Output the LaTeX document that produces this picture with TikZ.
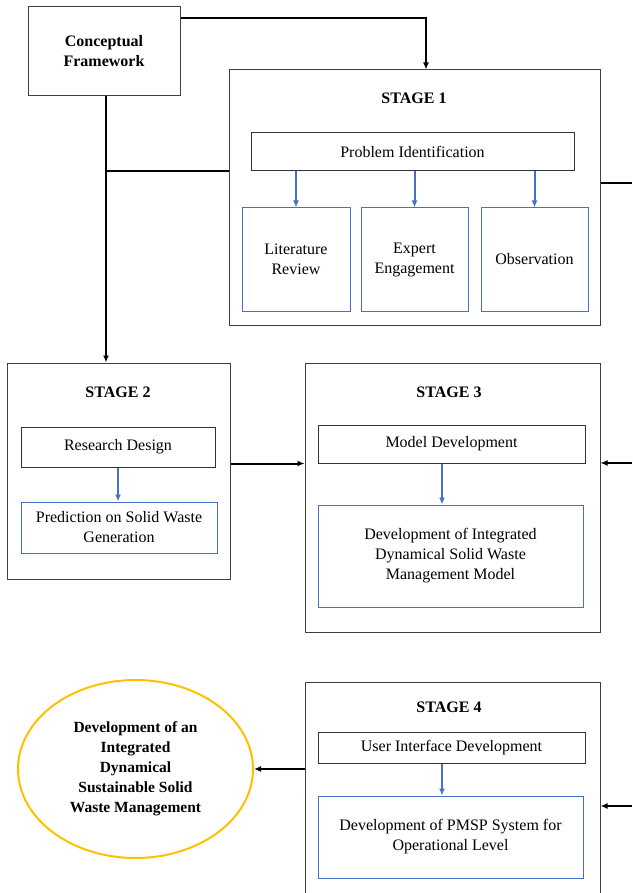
\documentclass[tikz,border=0pt]{standalone}
\usepackage{fontspec}
\setmainfont{Liberation Serif}
\usepackage{tikz}
\usetikzlibrary{shapes, arrows.meta, positioning, calc}
\definecolor{boxblue}{HTML}{4472C4}
\definecolor{goldline}{HTML}{FFC000}
\definecolor{framegray}{HTML}{404040}
\tikzstyle{stagebox} = [rectangle, draw=framegray, line width=1pt]
\tikzstyle{stagetitle} = [font=\fontsize{16}{20}\selectfont\bfseries, align=center]
\tikzstyle{taskbox} = [rectangle, draw=black!80, line width=1pt, font=\fontsize{16}{20}\selectfont, align=center]
\tikzstyle{outbox} = [rectangle, draw=boxblue, line width=1pt, font=\fontsize{16}{20}\selectfont, align=center]
\tikzstyle{goal} = [ellipse, draw=goldline, line width=2pt, font=\fontsize{15.5}{20}\selectfont\bfseries, align=center]
\tikzstyle{link} = [line width=2pt, -{Latex[length=7pt,width=6pt]}]
\tikzstyle{plainlink} = [line width=2pt]
\tikzstyle{bluelink} = [draw=boxblue, line width=2pt, -{Latex[length=7pt,width=6pt]}]

\begin{document}
\begin{tikzpicture}[x=1pt, y=-1pt, inner sep=0pt]
\useasboundingbox (0,0) rectangle (632,893);
% conceptual framework
\node (concept) [stagebox, stagetitle, minimum width=152pt, minimum height=89pt] at (104,51.5) {Conceptual\\Framework};

% stage 1
\node (stage1) [stagebox, minimum width=371pt, minimum height=255pt] at (414.5,197.5) {};
\node (title1) [stagetitle] at (414,98) {STAGE 1};
\node (pid) [taskbox, minimum width=323pt, minimum height=38pt] at (412.5,152) {Problem Identification};
\node (lit) [outbox, minimum width=108pt, minimum height=103pt] at (296,259.5) {Literature\\Review};
\node (expert) [outbox, minimum width=107pt, minimum height=103pt] at (414.5,259.5) {Expert\\Engagement};
\node (obs) [outbox, minimum width=107pt, minimum height=103pt] at (534.5,259.5) {Observation};

% stage 2
\node (stage2) [stagebox, minimum width=223pt, minimum height=216pt] at (118.5,471) {};
\node (title2) [stagetitle] at (118,392) {STAGE 2};
\node (design) [taskbox, minimum width=194pt, minimum height=40pt] at (118,447) {Research Design};
\node (predict) [outbox, minimum width=196pt, minimum height=51pt] at (119,527.5) {Prediction on Solid Waste\\Generation};

% stage 3
\node (stage3) [stagebox, minimum width=295pt, minimum height=269pt] at (452.5,497.5) {};
\node (title3) [stagetitle] at (449,392) {STAGE 3};
\node (model) [taskbox, minimum width=267pt, minimum height=38pt] at (451.5,444) {Model Development};
\node (integr) [outbox, minimum width=265pt, minimum height=102pt] at (450.5,556) {Development of Integrated\\Dynamical Solid Waste\\Management Model};

% stage 4
\node (stage4) [stagebox, minimum width=295pt, minimum height=218pt] at (452.5,791) {};
\node (title4) [stagetitle] at (449,707) {STAGE 4};
\node (ui) [taskbox, minimum width=267pt, minimum height=31pt] at (451.5,747.5) {User Interface Development};
\node (pmsp) [outbox, minimum width=265pt, minimum height=82pt] at (450.5,837) {Development of PMSP System for\\Operational Level};

% final output
\node (final) [goal, minimum width=235pt, minimum height=178pt] at (135.5,769) {Development of an\\Integrated\\Dynamical\\Sustainable Solid\\Waste Management};

% black connectors
\coordinate (trunk) at ([xshift=2pt]concept.south);
\draw[link] ([yshift=-12pt]concept.north east) -| ([xshift=11.5pt]stage1.north);
\draw[link] (trunk) -- (trunk |- stage2.north);
\draw[plainlink] (trunk |- pid.south) -- (stage1.west |- pid.south);
\draw[link] (stage2.east |- model.south) -- (stage3.west |- model.south);
\draw[link] (stage4.west |- final.east) -- (final.east);
\coordinate (rim1) at (632,183);
\coordinate (rim2) at (632,463);
\coordinate (rim3) at (632,806);
\draw[plainlink] (stage1.east |- rim1) -- (rim1);
\draw[link] (rim2) -- (rim2 -| stage3.east);
\draw[link] (rim3) -- (rim3 -| stage4.east);

% blue connectors
\foreach \sub in {lit, expert, obs}
  \draw[bluelink] (pid.south -| \sub.north) -- (\sub.north);
\draw[bluelink] (design.south) -- (design.south |- predict.north);
\coordinate (drop3) at ([xshift=-9.5pt]model.south);
\draw[bluelink] (drop3) -- (drop3 |- integr.north);
\coordinate (drop4) at ([xshift=-9.5pt]ui.south);
\draw[bluelink] (drop4) -- (drop4 |- pmsp.north);
\end{tikzpicture}
\end{document}
